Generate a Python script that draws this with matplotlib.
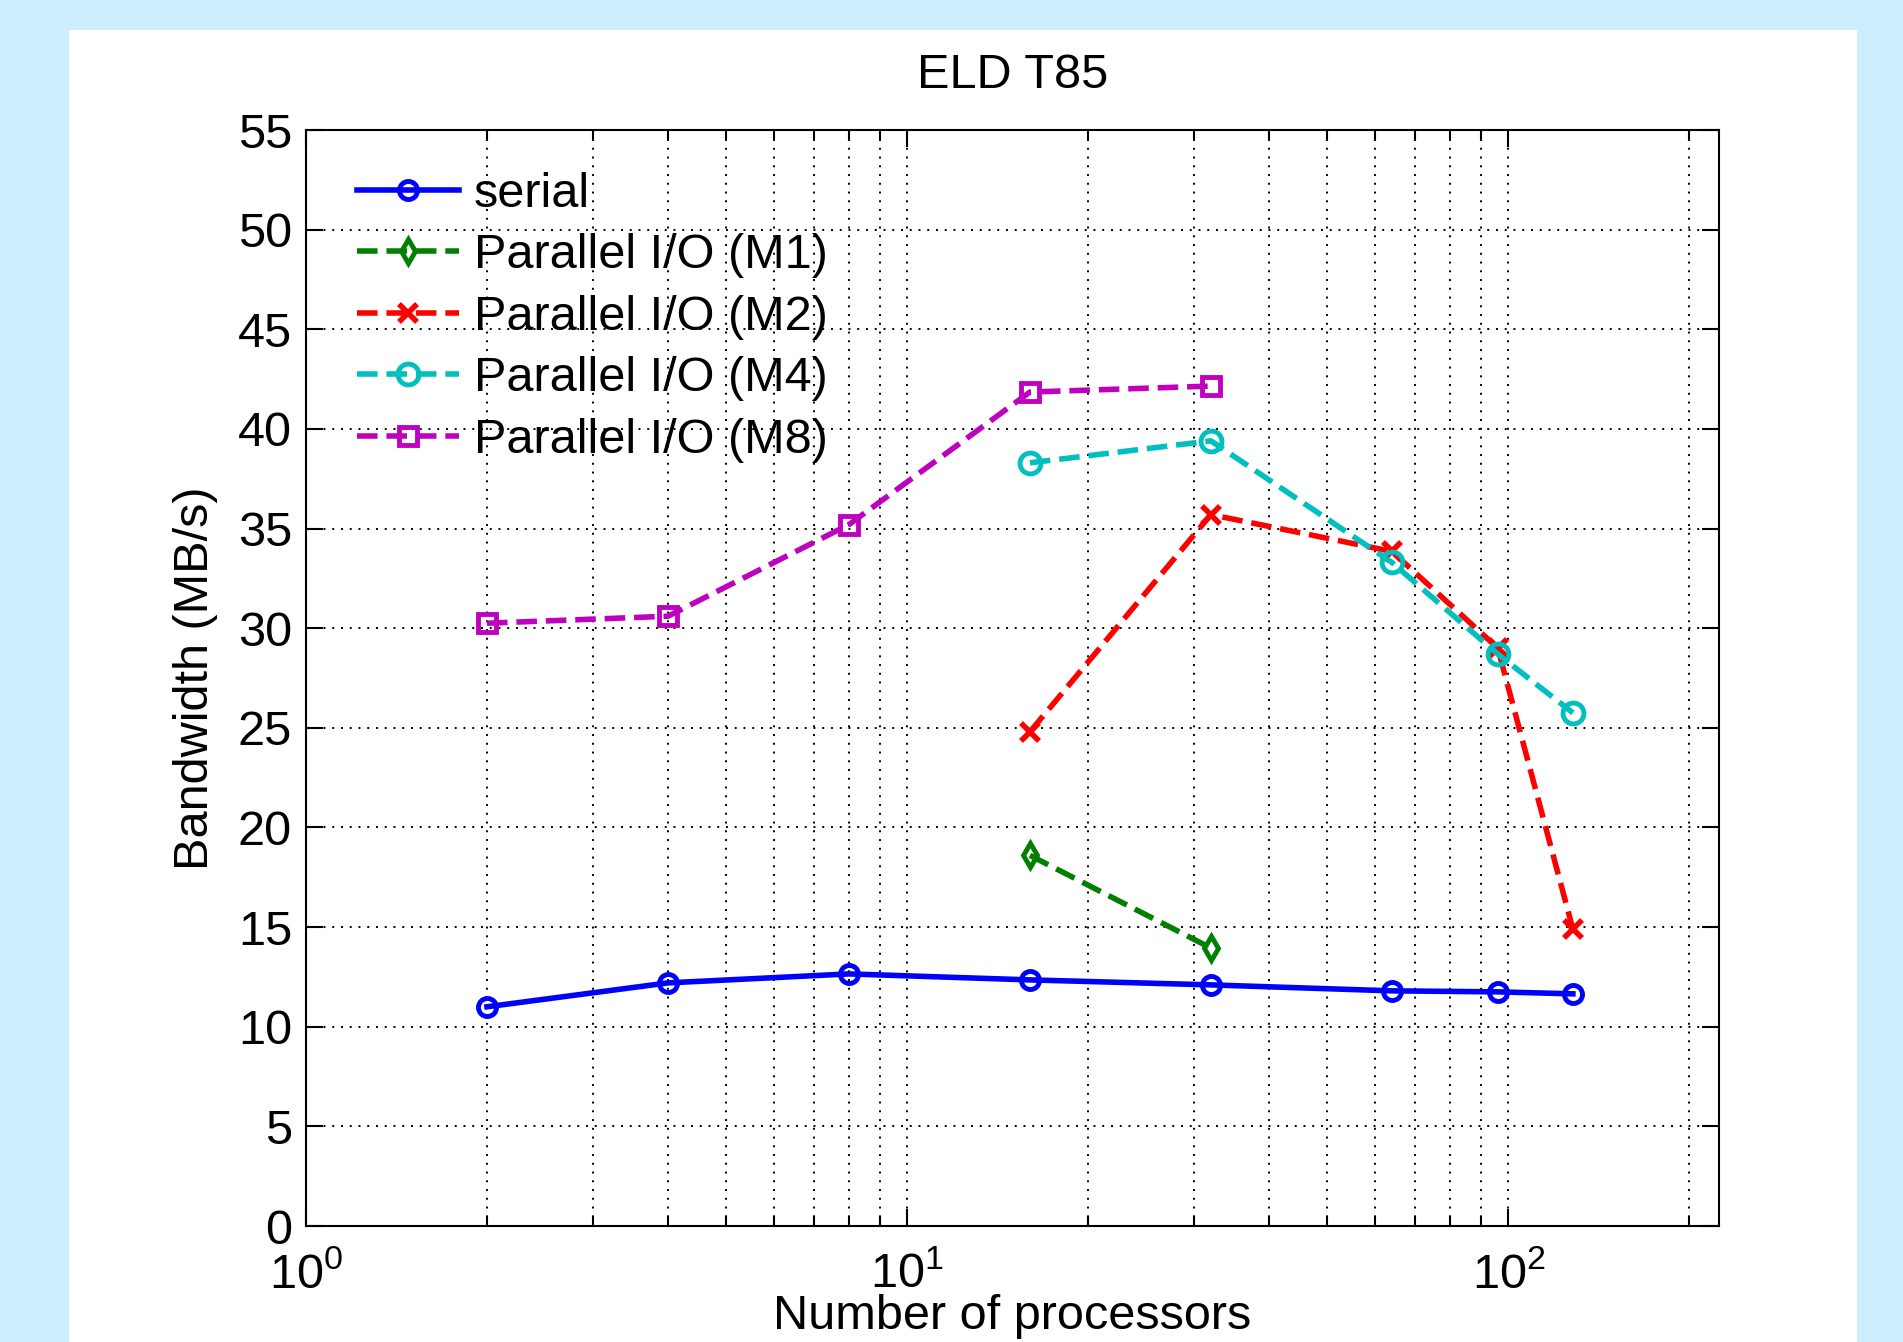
import matplotlib
matplotlib.use("Agg")
import matplotlib.pyplot as plt
import numpy as np
from matplotlib.patches import Rectangle
from matplotlib.ticker import LogLocator, MultipleLocator, NullFormatter

plt.rcParams['font.family'] = ['Liberation Sans', 'DejaVu Sans']
plt.rcParams['mathtext.default'] = 'regular'

# datos
procs_serial = [2, 4, 8, 16, 32, 64, 96, 128]
bw_serial = [11.0, 12.2, 12.65, 12.35, 12.1, 11.8, 11.75, 11.65]

procs_m1 = [16, 32]
bw_m1 = [18.6, 13.95]

procs_m2 = [16, 32, 64, 96, 128]
bw_m2 = [24.8, 35.7, 33.85, 29.0, 14.9]

procs_m4 = [16, 32, 64, 96, 128]
bw_m4 = [38.3, 39.4, 33.3, 28.7, 25.75]

procs_m8 = [2, 4, 8, 16, 32]
bw_m8 = [30.25, 30.6, 35.2, 41.85, 42.15]

fig = plt.figure(figsize=(19.03, 13.42), dpi=100)
fig.patch.set_facecolor('#cceeff')
# panel blanco de la ventana
fig.patches.append(Rectangle((69 / 1903, 0), (1857 - 69) / 1903, 1 - 30 / 1342,
                             transform=fig.transFigure, facecolor='white',
                             edgecolor='none', zorder=-10))

ax = fig.add_axes([306 / 1903, 1 - 1226 / 1342, (1719 - 306) / 1903, (1226 - 130) / 1342])
ax.set_facecolor('white')

fs = 35
lw = 4
ms = 13
ax.plot(procs_serial, bw_serial, '-o', color=(0, 0, 1), lw=lw, ms=ms, mfc='none', mew=3.5,
        label='serial')
ax.plot(procs_m1, bw_m1, '--d', color=(0, 0.5, 0), lw=lw, ms=ms - 1, mfc='none', mew=3.5,
        label='Parallel I/O (M1)')
ax.plot(procs_m2, bw_m2, '--x', color=(1, 0, 0), lw=lw, ms=ms, mew=4,
        label='Parallel I/O (M2)')
ax.plot(procs_m4, bw_m4, '--o', color=(0, 0.75, 0.75), lw=lw, ms=ms + 2, mfc='none', mew=3.5,
        label='Parallel I/O (M4)')
ax.plot(procs_m8, bw_m8, '--s', color=(0.75, 0, 0.75), lw=lw, ms=ms, mfc='none', mew=3.5,
        label='Parallel I/O (M8)')

ax.set_xscale('log')
ax.set_xlim(1, 224)
ax.set_ylim(0, 55)
ax.yaxis.set_major_locator(MultipleLocator(5))
ax.xaxis.set_major_locator(LogLocator(base=10, numticks=10))
ax.xaxis.set_minor_locator(LogLocator(base=10, subs=np.arange(2, 10), numticks=20))
ax.xaxis.set_minor_formatter(NullFormatter())

ax.grid(True, which='major', linestyle=(0, (1, 3.5)), color='black', lw=1.4)
ax.grid(True, which='minor', axis='x', linestyle=(0, (1, 3.5)), color='black', lw=1.4)
ax.tick_params(which='both', direction='in', top=True, right=True, labelsize=fs,
               width=1.5, color='black')
ax.tick_params(which='major', length=12)
ax.tick_params(axis='x', which='major', pad=19)
ax.tick_params(axis='y', which='major', pad=10)
ax.tick_params(which='minor', length=7)
for s in ax.spines.values():
    s.set_linewidth(1.5)

ax.set_title('ELD T85', fontsize=fs, pad=30)
ax.set_xlabel('Number of processors', fontsize=fs, labelpad=-3)
ax.set_ylabel('Bandwidth (MB/s)', fontsize=fs, labelpad=14)

leg = ax.legend(loc='upper left', fontsize=fs, frameon=False, handlelength=2.1,
                handletextpad=0.3, labelspacing=0.34, borderaxespad=0.3,
                bbox_to_anchor=(0.012, 0.993))

fig.savefig('out.png', dpi=100, facecolor=fig.get_facecolor())
